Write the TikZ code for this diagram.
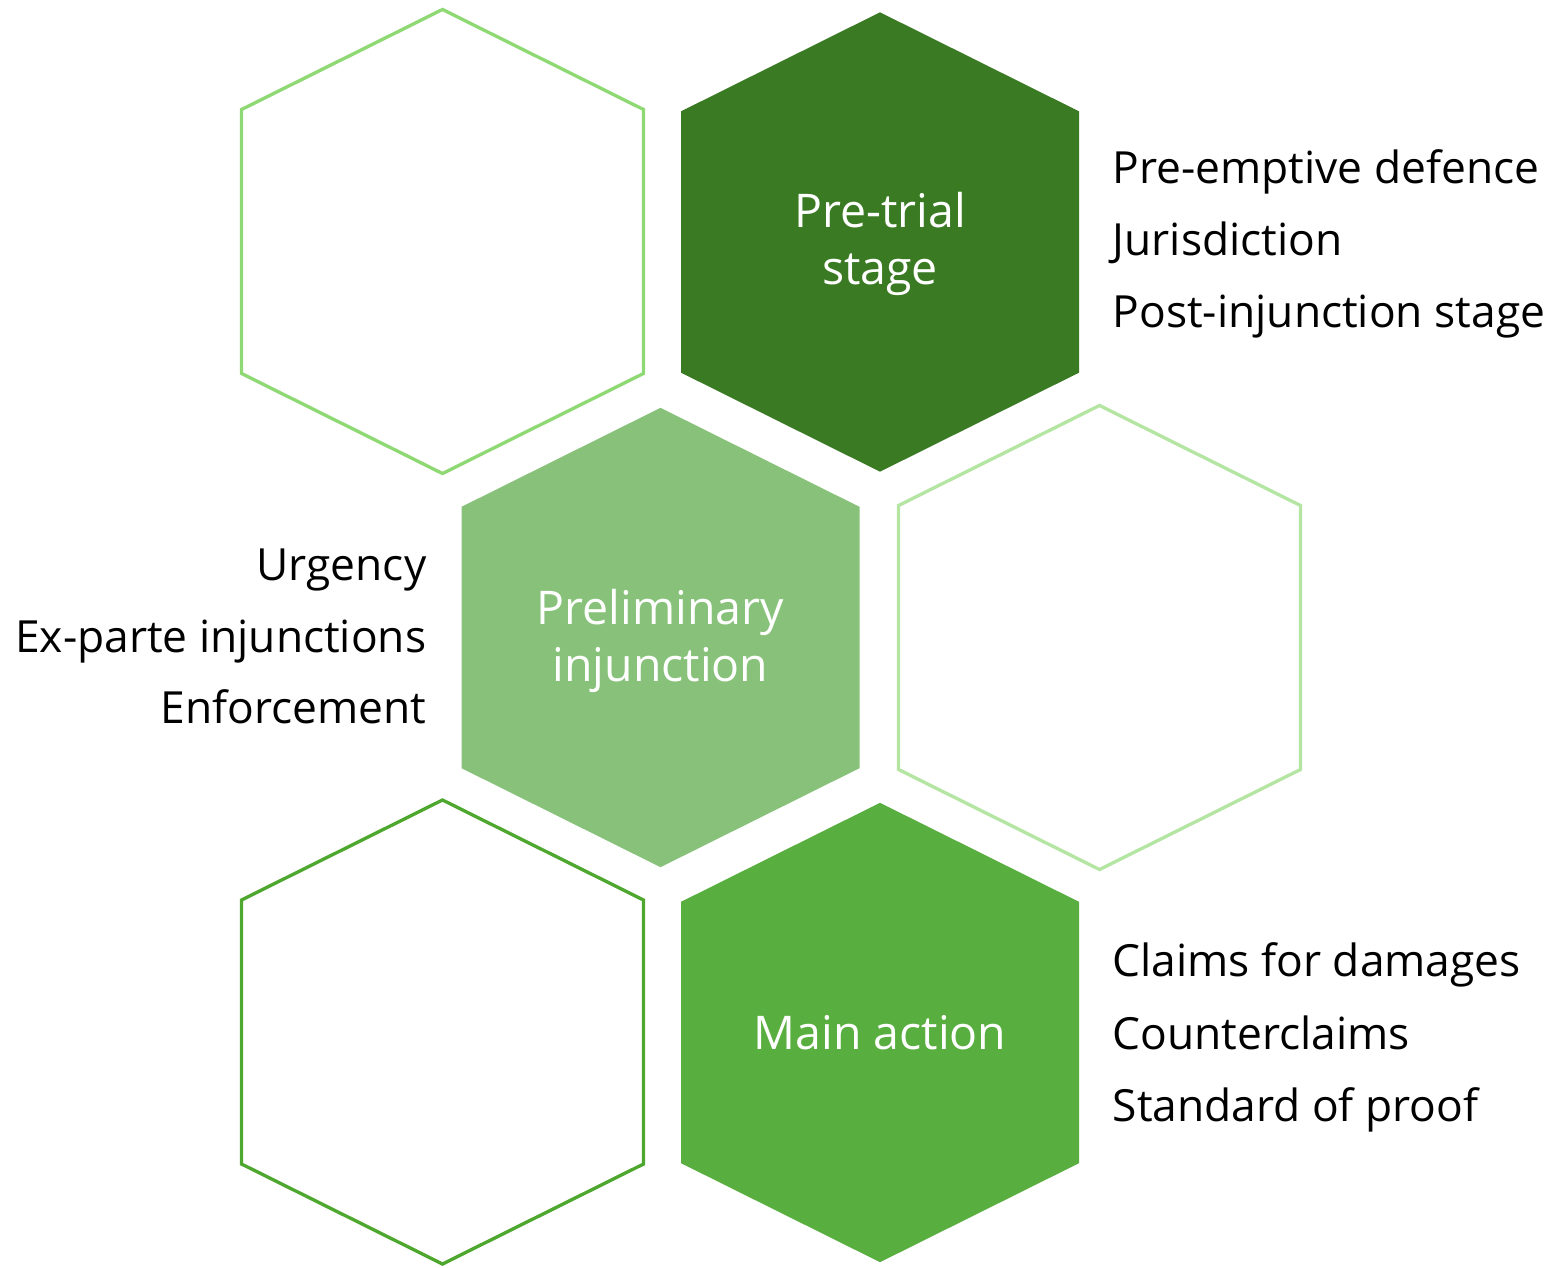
\documentclass[tikz,border=0pt]{standalone}
\usepackage{fontspec}
\setmainfont{Open Sans}

\definecolor{pretrialgreen}{HTML}{3A7A23}
\definecolor{prelimgreen}{HTML}{88C27A}
\definecolor{maingreen}{HTML}{58AE3E}
\definecolor{lineA}{HTML}{8ED973}
\definecolor{lineB}{HTML}{B4E5A2}
\definecolor{lineC}{HTML}{4EA72E}

\tikzset{
  hexcell/.pic={\path[pic actions] (0,-232) -- (201,-132) -- (201,132) -- (0,232) -- (-201,132) -- (-201,-132) -- cycle;},
  hexline/.style={line width=0.95pt},
  hexfill/.style={scale=0.99},
  hextext/.style={text=white, align=center, inner sep=0pt, font=\fontsize{13.2}{16}\selectfont},
  item/.style={inner sep=0pt, font=\fontsize{12.6}{14}\selectfont}
}

\begin{document}
\begin{tikzpicture}[x=0.01cm,y=-0.01cm]
    \useasboundingbox (0,0) rectangle (1555,1267);
    \pic[hexline, draw=lineA] at (442.5,241.5) {hexcell};
    \pic[hexfill, fill=pretrialgreen] at (880,242) {hexcell};
    \pic[hexfill, fill=prelimgreen] at (660.5,637.5) {hexcell};
    \pic[hexline, draw=lineB] at (1099.5,637.5) {hexcell};
    \pic[hexline, draw=lineC] at (442.5,1032) {hexcell};
    \pic[hexfill, fill=maingreen] at (880,1032.5) {hexcell};
    \node[hextext] (H2) at (880,244) {Pre-trial\\stage};
    \node[hextext] (H3) at (660.5,641) {Preliminary\\injunction};
    \node[hextext] (H6) at (880,1032.5) {Main action};
    \node[item, anchor=base west] (T1) at (1112,184) {Pre-emptive defence};
    \node[item, anchor=base west] (T2) at (1112,256) {Jurisdiction};
    \node[item, anchor=base west] (T3) at (1112,328) {Post-injunction stage};
    \node[item, anchor=base east] (L1) at (427,580) {Urgency};
    \node[item, anchor=base east] (L2) at (427,652) {Ex-parte injunctions};
    \node[item, anchor=base east] (L3) at (427,723) {Enforcement};
    \node[item, anchor=base west] (B1) at (1112,976) {Claims for damages};
    \node[item, anchor=base west] (B2) at (1112,1049) {Counterclaims};
    \node[item, anchor=base west] (B3) at (1112,1121) {Standard of proof};
  \end{tikzpicture}
\end{document}
